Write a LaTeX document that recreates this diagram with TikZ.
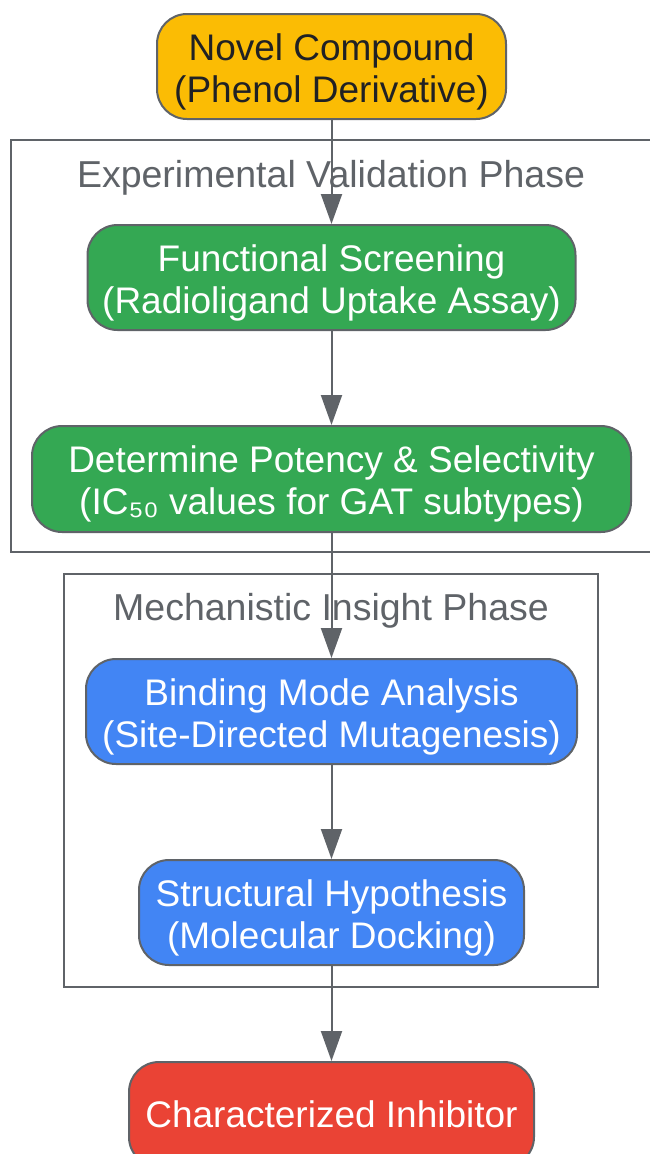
\documentclass[tikz,border=0pt]{standalone}
\usepackage{fontspec}
\setmainfont{Liberation Sans}
\usetikzlibrary{arrows.meta}
\definecolor{edgegray}{HTML}{5F6368}
\definecolor{cyellow}{HTML}{FBBC04}
\definecolor{cgreen}{HTML}{34A853}
\definecolor{cblue}{HTML}{4285F4}
\definecolor{cred}{HTML}{EA4335}
\definecolor{darktext}{HTML}{202124}
\newcommand{\lowerstrut}{\rule{0pt}{37pt}}
\tikzset{
  flowbox/.style={draw=edgegray, line width=2pt, rounded corners=30pt, align=center,
    inner sep=0pt, font=\fontsize{37}{42}\selectfont, text=white},
  clusterbox/.style={draw=edgegray, line width=2pt},
  clustertitle/.style={text=edgegray, font=\fontsize{37.5}{42}\selectfont, inner sep=0pt},
  flowarrow/.style={draw=edgegray, line width=2pt, -{Triangle[length=30pt,width=21pt]}}
}
\begin{document}
\begin{tikzpicture}[x=1pt,y=-1pt]
\useasboundingbox (0,0) rectangle (650,1154);
\clip (0,0) rectangle (650,1154);
% clusters
\draw[clusterbox] (11,140) rectangle (660,552);
\draw[clusterbox] (64,574) rectangle (598,987);
\node[clustertitle] (t1) at (331,178) {Experimental Validation Phase};
\node[clustertitle] (t2) at (331,611) {Mechanistic Insight Phase};
% nodes
\node[flowbox, fill=cyellow, text=darktext, minimum width=349pt, minimum height=105pt] (n1) at (331.5,66.5) {\lowerstrut Novel Compound\\(Phenol Derivative)};
\node[flowbox, fill=cgreen, minimum width=488pt, minimum height=105pt] (n2) at (331.5,277.5) {\lowerstrut Functional Screening\\(Radioligand Uptake Assay)};
\node[flowbox, fill=cgreen, minimum width=599pt, minimum height=106pt] (n3) at (331.5,479) {\lowerstrut Determine Potency \& Selectivity\\(IC₅₀ values for GAT subtypes)};
\node[flowbox, fill=cblue, minimum width=491pt, minimum height=105pt] (n4) at (331.5,711.5) {\lowerstrut Binding Mode Analysis\\(Site-Directed Mutagenesis)};
\node[flowbox, fill=cblue, minimum width=385pt, minimum height=105pt] (n5) at (331.5,912.5) {\lowerstrut Structural Hypothesis\\(Molecular Docking)};
\node[flowbox, fill=cred, minimum width=405pt, minimum height=105pt] (n6) at (331.5,1114.5) {Characterized Inhibitor};
% arrows
\draw[flowarrow] (n1.south) -- (n2.north);
\draw[flowarrow] (n2.south) -- (n3.north);
\draw[flowarrow] (n3.south) -- (n4.north);
\draw[flowarrow] (n4.south) -- (n5.north);
\draw[flowarrow] (n5.south) -- (n6.north);
\end{tikzpicture}
\end{document}
